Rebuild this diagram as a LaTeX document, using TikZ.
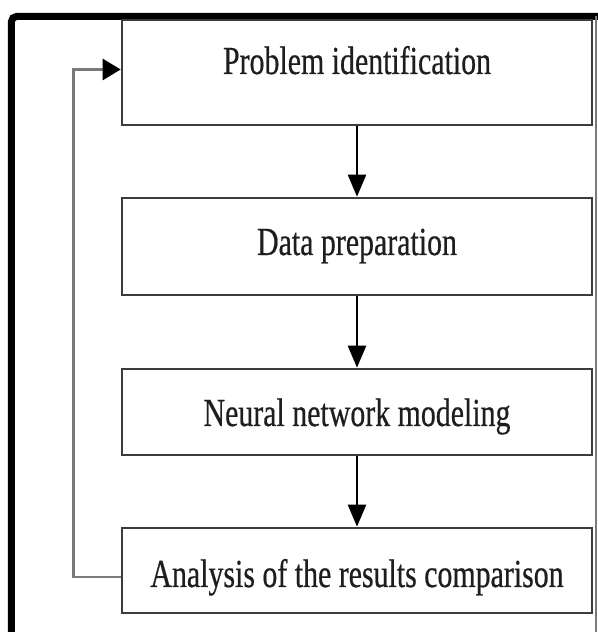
\documentclass[tikz,border=0pt]{standalone}
\usepackage{fontspec}
\setmainfont{Liberation Serif}
\newfontfamily\stagefont{Liberation Serif}[UprightFeatures={FakeBold=0.6}]
\usepackage{graphicx}
\usepackage{xcolor}
\usepackage{tikz}
\usetikzlibrary{arrows.meta,positioning,calc}
\definecolor{flowink}{HTML}{1E1E1E}
\definecolor{flowgray}{HTML}{3C3C3C}
\definecolor{loopgray}{HTML}{7A7A7A}
\newcommand{\tallt}[1]{\scalebox{1}[1.33]{#1}}

\begin{document}
\begin{tikzpicture}[x=1cm,y=1cm,
    stagebox/.style={draw=flowgray,line width=1.5pt,minimum width=9.4cm,inner sep=0pt},
    stagetext/.style={anchor=base,inner sep=0pt,text=flowink,font=\stagefont\fontsize{17}{20}\selectfont},
    flowarrow/.style={draw=black,line width=1.4pt,-{Triangle[length=0.44cm,width=0.36cm]}},
    backline/.style={draw=loopgray,line width=1.5pt,-{Triangle[length=0.36cm,width=0.42cm,fill=black,color=black]}}]

  \useasboundingbox (0,0) rectangle (11.94,12.64);

  % Cadre
  \draw[black,line width=0.14cm,rounded corners=0.1cm] (0.23,-0.2) -- (0.23,12.31) -- (12.2,12.31);
  \draw[loopgray,line width=0.04cm] (11.92,12.31) -- (11.92,-0.2);

  % Etapes
  \foreach \nm/\yc/\hh/\yb/\txt in {ident/11.19/2.10/11.16/Problem identification,
      prep/7.71/1.94/7.54/Data preparation, model/4.40/1.72/4.12/Neural network modeling,
      analysis/1.23/1.70/0.90/Analysis of the results comparison} {
    \node[stagebox,minimum height=\hh cm] (\nm) at (7.14,\yc) {};
    \node[stagetext] (\nm-t) at (7.14,\yb) {\tallt{\txt}};
  }

  % Fleches
  \foreach \a/\b in {ident/prep, prep/model, model/analysis}
    \draw[flowarrow] (\a) -- (\b);

  % Boucle de retour
  \draw[backline] ([yshift=-0.13cm]analysis.west) -- ++(-0.94,0)
        |- ([yshift=0.06cm]ident.west);

\end{tikzpicture}
\end{document}
